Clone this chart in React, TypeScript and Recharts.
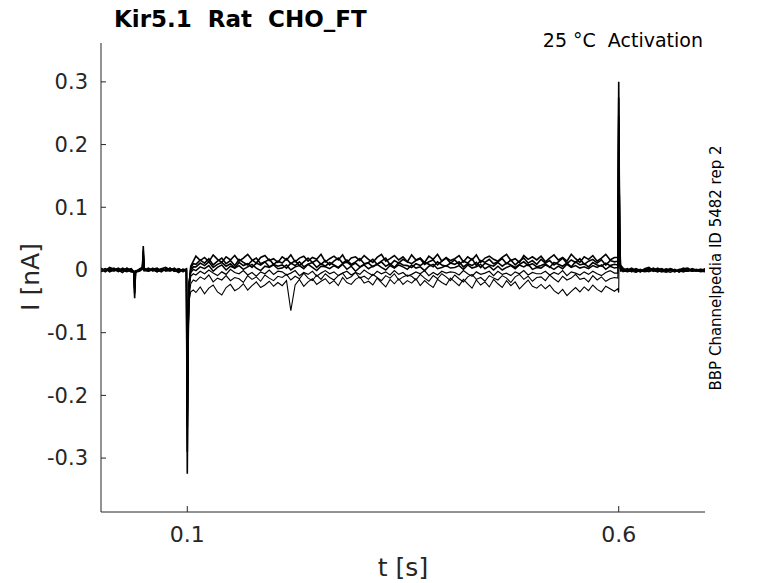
import { Line, LineChart, XAxis, YAxis } from "recharts";

// sample times in ms (shared by every sweep)
const timeMs = [
  0, 5, 10, 15, 20, 25, 30, 35, 38, 39, 40, 45, 48, 49, 50, 55, 60, 65, 70, 75, 80, 85, 90, 95, 99, 100, 101, 102, 104, 107,
  110, 115, 120, 125, 130, 135, 140, 145, 150, 155,
  160, 165, 170, 175, 180, 185, 190, 195, 200, 205,
  210, 215, 220, 225, 230, 235, 240, 245, 250, 255,
  260, 265, 270, 275, 280, 285, 290, 295, 300, 305,
  310, 315, 320, 325, 330, 335, 340, 345, 350, 355,
  360, 365, 370, 375, 380, 385, 390, 395, 400, 405,
  410, 415, 420, 425, 430, 435, 440, 445, 450, 455,
  460, 465, 470, 475, 480, 485, 490, 495, 500, 505,
  510, 515, 520, 525, 530, 535, 540, 545, 550, 555,
  560, 565, 570, 575, 580, 585, 590, 595,
  599, 600, 601, 602,
  605, 610, 615, 620, 625, 630, 635, 640, 645, 650, 655, 660, 665, 670, 675, 680, 685, 690, 695, 700,
];

// current traces in pA
const sweepA = [
  3, -1, 4, 1, -2, 3, 0, 2, -3, -45, -4, 2, 4, 38, 3, -1, 3, -2, 2, 4, 0, 3, -2, 1, 0, -325, -120, -30, 6, 14,
  22, 15, 20, 13, 24, 17, 12, 21, 16, 23,
  14, 19, 25, 16, 11, 20, 23, 15, 18, 12,
  21, 16, 24, 13, 19, 22, 14, 20, 17, 25,
  13, 18, 22, 16, 24, 12, 19, 21, 15, 23,
  17, 12, 20, 25, 14, 18, 23, 16, 21, 13,
  24, 16, 19, 12, 22, 17, 25, 14, 20, 15,
  18, 23, 13, 21, 16, 24, 12, 19, 22, 17,
  14, 20, 25, 15, 18, 12, 23, 17, 21, 16,
  22, 13, 19, 24, 16, 20, 14, 25, 18, 12,
  21, 17, 23, 14, 19, 25, 16, 20,
  20, 300, 70, 8,
  3, -2, 1, 0, -3, 2, 4, -1, 0, 2, -2, 1, 0, -3, 2, 3, -1, 0, 1, -2,
];
const sweepB = [
  -2, 2, -3, 0, 3, -1, 2, -3, -2, -38, -3, 0, 3, 31, 1, -2, 1, 3, -1, 0, 3, -2, 2, -3, 1, -290, -100, -25, 3, 10,
  9, 16, 11, 18, 8, 14, 19, 10, 15, 7,
  17, 12, 8, 15, 19, 10, 13, 17, 9, 14,
  11, 18, 10, 15, 7, 13, 19, 12, 16, 9,
  15, 8, 14, 19, 11, 16, 9, 13, 18, 10,
  12, 17, 9, 14, 19, 8, 15, 11, 17, 13,
  10, 15, 18, 9, 13, 16, 8, 14, 19, 11,
  16, 9, 14, 11, 18, 7, 15, 12, 17, 10,
  13, 18, 10, 16, 8, 14, 19, 11, 15, 9,
  17, 11, 15, 8, 13, 19, 10, 16, 12, 18,
  9, 14, 17, 11, 16, 8, 15, 13,
  14, 275, 60, 5,
  0, 2, -3, 2, -1, 0, 2, -2, 3, 0, 1, -1, -3, 1, 0, -2, 2, 0, -2, 1,
];
const sweepC = [
  1, -3, 2, -1, 0, -4, 3, -1, -4, -30, -2, -1, 1, 25, 0, 3, -1, 0, -3, 2, -1, 0, -4, 1, -1, -250, -85, -20, -1, 5,
  5, 11, 7, 13, 4, 9, 12, 6, 10, 3,
  12, 7, 10, 4, 11, 8, 13, 5, 9, 6,
  8, 3, 11, 7, 13, 5, 9, 12, 4, 10,
  6, 12, 8, 4, 10, 13, 7, 11, 5, 9,
  11, 5, 9, 13, 6, 10, 4, 12, 8, 7,
  4, 10, 7, 12, 9, 5, 13, 8, 6, 11,
  9, 13, 5, 10, 7, 12, 4, 11, 8, 6,
  12, 6, 11, 8, 4, 9, 13, 7, 10, 5,
  7, 10, 4, 12, 9, 6, 11, 5, 13, 8,
  10, 5, 12, 8, 6, 11, 7, 9,
  8, 245, 50, 3,
  -1, 0, 3, -2, 1, -2, 0, 2, -1, -3, 0, 2, -1, 0, 3, -1, 0, -2, 1, 0,
];
const sweepG = [
  -3, 1, 0, 3, -1, 2, -2, 1, -3, -28, -2, 1, 2, 24, -1, 0, 2, -3, 1, -1, 3, -2, 1, -1, 2, -235, -95, -25, -4, 1,
  -1, 5, 2, 7, -2, 4, 8, 0, 6, 3,
  7, 1, 5, 9, 3, -1, 6, 4, 8, 2,
  3, 8, 0, 5, 7, 2, 9, 4, -1, 6,
  5, 2, 7, 3, 9, 1, 6, -2, 4, 8,
  2, 6, 9, 4, 0, 7, 3, 8, 5, 1,
  8, 3, 5, -1, 6, 9, 2, 4, 7, 3,
  4, 7, 1, 8, 3, 5, 9, 2, 6, 0,
  6, 0, 4, 7, 2, 8, 5, 9, 1, 4,
  3, 8, 5, 1, 6, 2, 9, 4, 7, 3,
  5, 2, 7, 4, 8, 1, 6, 3,
  4, 230, 45, 2,
  1, -2, 0, 2, -3, 1, -1, 3, 0, -2, 2, -1, 1, -3, 0, 2, -2, 1, -1, 2,
];
const sweepD = [
  -2, 1, -1, 2, -3, 0, -1, 2, -3, -25, -3, 1, 2, 20, -1, -2, 0, -3, 1, -1, -2, 1, 0, -2, -1, -220, -90, -30, -10, -6,
  -8, -2, -6, 0, -5, -9, -3, -7, 1, -4,
  -6, -1, -8, -4, -10, -3, -6, 0, -7, -2,
  -3, -8, -5, -1, -9, -4, -7, -2, -10, -5,
  -1, -6, -3, -9, -5, -2, -8, -4, -7, 0,
  -5, -9, -2, -6, -3, -8, -1, -7, -4, -10,
  -7, -3, -6, -1, -9, -4, -8, -2, -5, -3,
  -4, -8, -1, -6, -10, -3, -7, -5, -2, -9,
  -2, -7, -5, -9, -3, -6, -1, -8, -4, -6,
  -6, -2, -8, -4, -7, -1, -9, -3, -5, -8,
  -3, -7, -2, -6, -9, -4, -1, -5,
  -5, 210, 40, 0,
  -2, -1, 0, -3, -1, -2, 1, -1, -3, 0, -2, -1, 0, -3, -1, -2, 0, -1, -2, -3,
];
const sweepE = [
  1, -1, 0, -2, 1, -1, -3, 0, -5, -35, -4, -2, 3, 28, 0, 1, -2, 1, 0, -1, 1, -2, 0, 1, -2, -270, -110, -45, -22, -16,
  -18, -11, -15, -8, -19, -13, -16, -9, -17, -12,
  -14, -20, -9, -15, -11, -18, -8, -13, -17, -10,
  -12, -7, -16, -10, -14, -5, -13, -17, -8, -15,
  -6, -12, -16, -9, -5, -14, -11, -4, -13, -10,
  -15, -7, -12, -17, -9, -13, -6, -16, -11, -8,
  -10, -16, -7, -13, -18, -9, -14, -6, -11, -17,
  -8, -14, -19, -11, -7, -15, -12, -18, -9, -13,
  -16, -9, -13, -20, -11, -7, -15, -10, -18, -12,
  -11, -17, -8, -14, -19, -10, -16, -13, -7, -15,
  -13, -19, -9, -16, -11, -18, -14, -12,
  -13, 160, 30, -2,
  -1, -3, -1, 0, -2, -1, -3, 0, -1, -2, -4, -1, -2, 0, -3, -1, -2, -1, 0, -2,
];
const sweepF = [
  -1, 2, -2, 0, -1, 1, 0, -3, -2, -20, -1, 0, 1, 22, 2, -1, 1, -1, 2, -2, 0, -1, 2, -1, 0, -200, -100, -50, -35, -32,
  -36, -27, -38, -29, -24, -35, -40, -28, -23, -33,
  -29, -22, -32, -25, -19, -28, -24, -18, -26, -20,
  -25, -17, -65, -24, -15, -26, -19, -14, -23, -18,
  -14, -22, -17, -25, -12, -20, -23, -15, -11, -21,
  -18, -24, -13, -20, -27, -15, -22, -14, -23, -17,
  -21, -14, -25, -17, -23, -28, -15, -20, -24, -13,
  -19, -25, -15, -22, -29, -16, -24, -19, -27, -15,
  -22, -28, -17, -25, -19, -30, -23, -16, -26, -29,
  -23, -30, -24, -33, -38, -31, -41, -34, -28, -35,
  -27, -33, -24, -31, -35, -26, -30, -34,
  -30, -36, 120, 5,
  -3, -1, -2, -4, -1, -3, -2, 0, -3, -1, -2, -4, -1, -2, -3, 0, -2, -1, -3, -2,
];

const sweeps = [sweepA, sweepB, sweepC, sweepG, sweepD, sweepE, sweepF];
const sweepWidths = [1.6, 1.6, 1.6, 1.5, 1.2, 1.1, 1.1];
const xTicks = [0.1, 0.6];
const yTicks = [-0.3, -0.2, -0.1, 0, 0.1, 0.2, 0.3];

const data = timeMs.map((ms, i) => {
  const row: Record<string, number> = { t: ms / 1000 };
  sweeps.forEach((s, k) => {
    row[`s${k}`] = s[i] / 1000;
  });
  return row;
});

const FONT = "DejaVu Sans, sans-serif";
const INK = "#262626";

const YTick = ({ x, y, payload }: any) => (
  <g>
    <line x1={x} y1={y} x2={x + 5} y2={y} stroke={INK} strokeWidth={1} />
    <text x={x - 13} y={y} dy="0.35em" textAnchor="end" fontSize={21} fill={INK} fontFamily={FONT}>
      {String(payload.value)}
    </text>
  </g>
);

const XTick = ({ x, y, payload }: any) => (
  <g>
    <line x1={x} y1={y} x2={x} y2={y - 6} stroke={INK} strokeWidth={1} />
    <text x={x} y={y + 30} textAnchor="middle" fontSize={22} fill={INK} fontFamily={FONT}>
      {String(payload.value)}
    </text>
  </g>
);

export default function App() {
  return (
    <div style={{ position: "absolute", left: 0, top: 0, width: 778, height: 583, background: "#fff" }}>
      <LineChart width={778} height={583} data={data} margin={{ top: 43, right: 73, bottom: 31, left: 41 }}>
        <XAxis
          type="number"
          dataKey="t"
          domain={[0, 0.7]}
          ticks={xTicks}
          tick={<XTick />}
          tickLine={false}
          tickSize={0}
          tickMargin={0}
          height={40}
          axisLine={{ stroke: INK }}
          allowDataOverflow
        />
        <YAxis
          type="number"
          domain={[-0.386, 0.362]}
          ticks={yTicks}
          tick={<YTick />}
          tickLine={false}
          tickSize={0}
          tickMargin={0}
          width={60}
          axisLine={{ stroke: INK }}
          allowDataOverflow
        />
        {sweeps.map((_, k) => (
          <Line
            key={k}
            type="linear"
            dataKey={`s${k}`}
            stroke="#000"
            strokeWidth={sweepWidths[k]}
            strokeLinejoin="miter"
            dot={false}
            isAnimationActive={false}
          />
        ))}
      </LineChart>
      <svg
        width={778}
        height={583}
        style={{ position: "absolute", left: 0, top: 0, pointerEvents: "none" }}
        fontFamily={FONT}
      >
        <text x={114} y={27} fontSize={23} fontWeight="bold" fill="#000" style={{ whiteSpace: "pre" }}>
          {"Kir5.1  Rat  CHO_FT"}
        </text>
        <text x={703} y={47} fontSize={19} textAnchor="end" fill="#000" style={{ whiteSpace: "pre" }}>
          {"25 °C  Activation"}
        </text>
        <text
          x={721}
          y={268}
          fontSize={15}
          textAnchor="middle"
          fill="#000"
          transform="rotate(-90 721 268)"
        >
          BBP Channelpedia ID 5482 rep 2
        </text>
        <text x={403} y={576} fontSize={25} textAnchor="middle" fill={INK}>
          t [s]
        </text>
        <text x={39} y={277} fontSize={25} textAnchor="middle" fill={INK} transform="rotate(-90 39 277)">
          I [nA]
        </text>
      </svg>
    </div>
  );
}
